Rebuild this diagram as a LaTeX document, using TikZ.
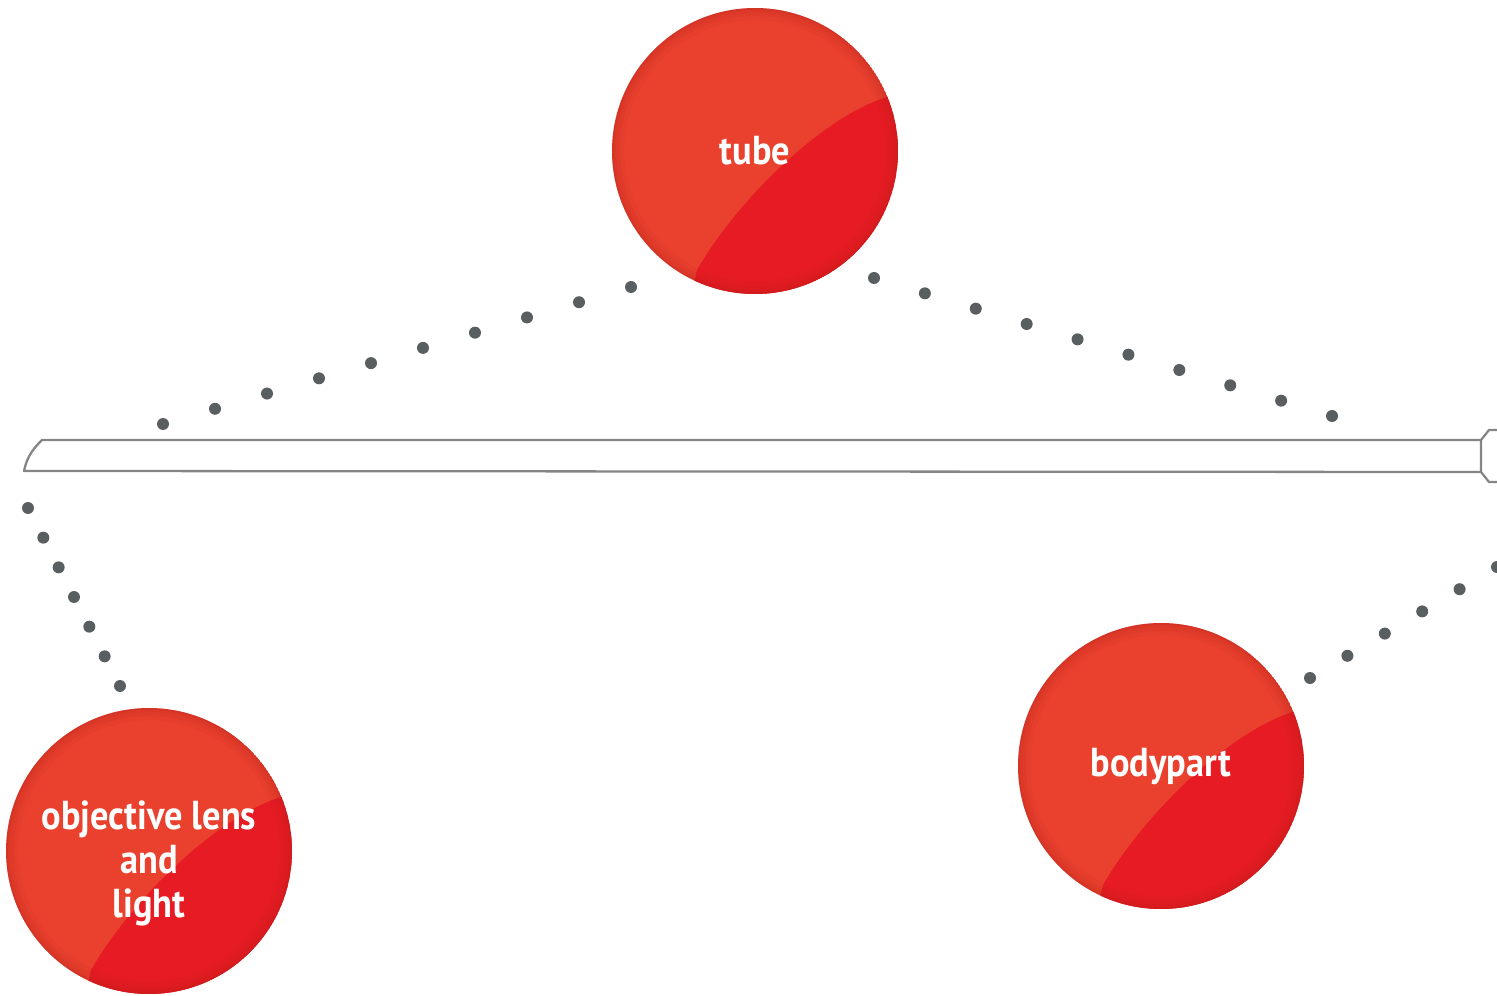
\documentclass[tikz,border=0pt]{standalone}
\usepackage{fontspec}
\setmainfont{PT Sans}[FakeStretch=0.9]
\usepackage{tikz}
\usetikzlibrary{calc}
\definecolor{ballred}{HTML}{E9412E}
\definecolor{balldeep}{HTML}{E61B23}
\definecolor{ballrim}{HTML}{B01E1C}
\definecolor{dotgray}{HTML}{595E60}
\definecolor{rodgray}{HTML}{858585}
\tikzstyle{balltext}=[text=white, font=\bfseries\fontsize{23}{25}\selectfont, align=center]
\tikzstyle{rod}=[draw=rodgray, line width=1.3pt, fill=white, line join=round]
\tikzstyle{dot}=[fill=dotgray]
\newcommand{\redball}[4][0]{
	\begin{scope}
		\clip #3 circle (2.86cm);
		\fill[ballred] #3 circle (2.86cm);
		\fill[balldeep] ($#3+(-58,119)$) .. controls ($#3+(-15,45)$) and ($#3+(70,-35)$) .. ($#3+(132,-54)$) -- ++(80,0) -- ++(0,300) -- ++(-300,0) -- cycle;
		\foreach \w/\o in {14pt/.06, 9pt/.08, 5pt/.1, 2pt/.14}
			\draw[ballrim, opacity=\o, line width=\w] #3 circle (2.86cm);
	\end{scope}
	\node[balltext] (#2) at ($#3+(0,#1)$) {#4};
}

\begin{document}
\begin{tikzpicture}[x=0.02cm, y=-0.02cm]
	\useasboundingbox (0,0) rectangle (1497,996);
	\clip (0,0) rectangle (1497,996);
	% the rod
	\draw[rod] (42,440) -- (1481,440) -- (1481,472) -- (24,471) .. controls (27,456) and (34,448) .. cycle;
	\draw[rod] (1481,440) -- (1489,430) -- (1500,430);
	\draw[rod] (1481,472) -- (1489,482) -- (1500,482);
	% the three parts
	\redball{tube}{(755,151)}{tube}
	\redball[12]{lens}{(149,851)}{objective lens\\and\\light}
	\redball{body}{(1161,766)}{bodypart}
	% ends of the dotted lines
	\coordinate (tubeL) at (631,287);
	\coordinate (rodL) at (163,424);
	\coordinate (tubeR) at (874,278);
	\coordinate (rodR) at (1332,416);
	\coordinate (lensT) at (120,686);
	\coordinate (rodLL) at (28,508);
	\coordinate (bodyR) at (1310,678);
	\coordinate (rodRR) at (1497,567);
	\foreach \from/\to/\n in {tubeL/rodL/9, tubeR/rodR/9, lensT/rodLL/6, bodyR/rodRR/5}
		\foreach \i in {0,...,\n}
			\fill[dot] ($(\from)!\i/\n!(\to)$) circle (0.12cm);
\end{tikzpicture}
\end{document}
